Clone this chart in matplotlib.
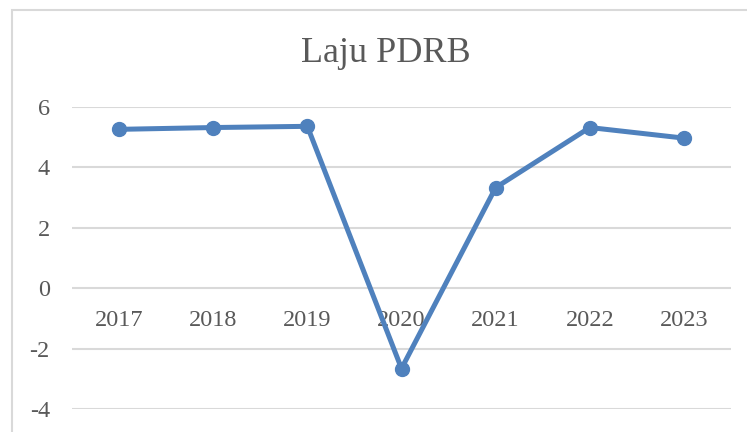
import matplotlib
matplotlib.use("Agg")
import matplotlib.pyplot as plt
from matplotlib.patches import Rectangle

years = ["2017", "2018", "2019", "2020", "2021", "2022", "2023"]
laju = [5.26, 5.32, 5.36, -2.66, 3.33, 5.32, 4.97]
yticks = [-4, -2, 0, 2, 4, 6]

plt.rcParams["font.family"] = ["Liberation Serif", "DejaVu Serif"]
text_col = "#595959"
grid_col = "#d9d9d9"
blue = "#4f81bd"

W, H = 747, 432
fig = plt.figure(figsize=(W / 100, H / 100), dpi=100)

# chart border (cropped on right and bottom)
fig.patches.append(Rectangle((12 / W, -0.1), 1.2, (H - 10) / H + 0.1,
                             transform=fig.transFigure, fill=False,
                             edgecolor=grid_col, linewidth=1.5))

ax = fig.add_axes([72 / W, (H - 409) / H, (731 - 72) / W, (409 - 107) / H])
x = list(range(len(years)))
ax.set_xlim(-0.5, len(years) - 0.5)
ax.set_ylim(-4, 6)

for t in yticks:
    ax.axhline(t, color=grid_col, linewidth=1.5, zorder=1)

ax.plot(x, laju, color=blue, linewidth=3.6, marker="o", markersize=10,
        zorder=3, solid_capstyle="round")

ax.set_yticks(yticks)
ax.set_yticklabels([str(t) for t in yticks], fontsize=17.5, color=text_col)
ax.tick_params(axis="y", length=0, pad=16)
ax.set_xticks([])
for s in ax.spines.values():
    s.set_visible(False)

for i, lab in enumerate(years):
    ax.annotate(lab, (i, 0), xytext=(0, -23.5), textcoords="offset points",
                ha="center", va="center", fontsize=17.5, color=text_col, zorder=2)

fig.text(386 / W, (H - 53) / H, "Laju PDRB", ha="center", va="center",
         fontsize=26, color=text_col)

fig.savefig("out.png", dpi=100)
